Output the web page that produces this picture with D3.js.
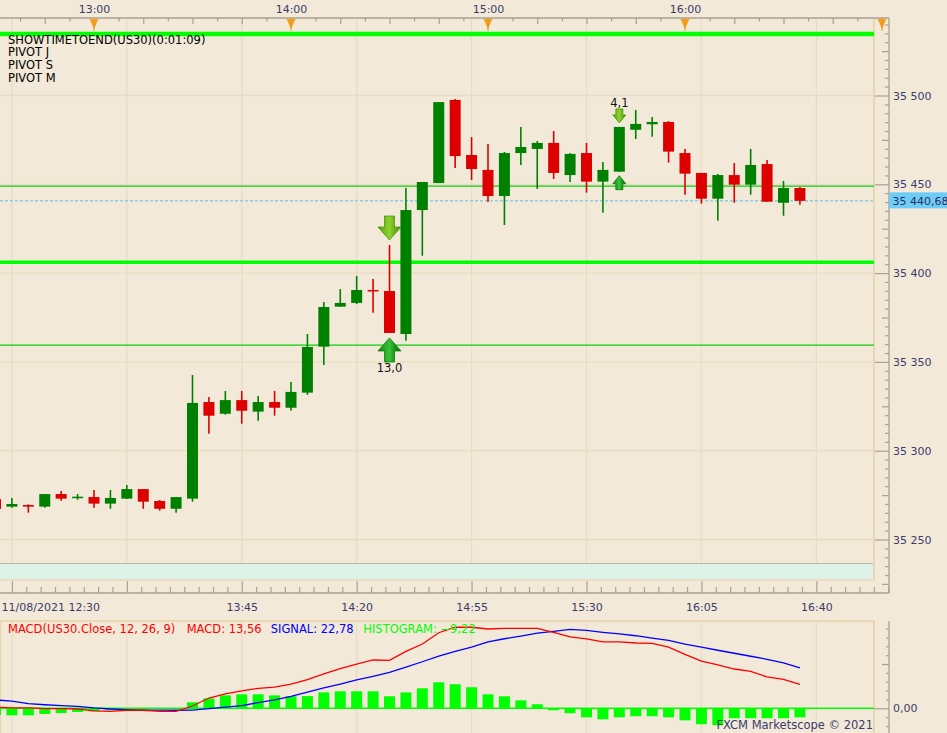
<!DOCTYPE html>
<html>
<head>
<meta charset="utf-8">
<script src="https://cdn.jsdelivr.net/npm/d3@7"></script>
<style>
  body { margin: 0; background: #f2e9d8; overflow: hidden; }
  svg { display: block; }
  text { font-family: "DejaVu Sans", Verdana, sans-serif; }
</style>
</head>
<body>
<script>
// US30, 5 minute bars
const times = ["12:30","12:35","12:40","12:45","12:50","12:55","13:00","13:05","13:10","13:15",
  "13:20","13:25","13:30","13:35","13:40","13:45","13:50","13:55","14:00","14:05",
  "14:10","14:15","14:20","14:25","14:30","14:35","14:40","14:45","14:50","14:55",
  "15:00","15:05","15:10","15:15","15:20","15:25","15:30","15:35","15:40","15:45",
  "15:50","15:55","16:00","16:05","16:10","16:15","16:20","16:25","16:30","16:35"];

const open = [35272.8,35268.5,35269.4,35268.5,35275.6,35273.5,35273.9,35270.2,35273.0,35278.4,
  35271.7,35267.3,35273.0,35327.4,35320.8,35328.5,35322.0,35327.4,35324.2,35332.7,
  35358.6,35381.1,35383.2,35390.5,35389.9,35365.7,35435.5,35450.7,35497.5,35466.5,
  35458.1,35443.4,35467.6,35469.9,35473.3,35455.2,35467.6,35451.5,35457.1,35480.7,
  35483.8,35485.1,35467.6,35456.4,35441.9,35455.2,35449.8,35461.4,35439.6,35447.9];

const high = [35274.5,35273.4,35269.8,35275.6,35277.3,35275.6,35277.9,35277.9,35280.7,35278.4,
  35272.2,35273.9,35342.6,35330.2,35333.6,35333.6,35330.8,35333.6,35338.7,35365.7,
  35383.7,35391.0,35398.4,35396.7,35415.8,35447.9,35451.3,35496.3,35498.0,35476.6,
  35472.7,35468.2,35482.3,35474.4,35480.0,35467.6,35473.3,35462.6,35482.3,35491.8,
  35487.9,35485.6,35469.9,35456.4,35455.8,35462.0,35469.9,35463.7,35451.9,35448.5];

const low = [35265.5,35267.9,35265.1,35267.9,35271.8,35272.4,35267.9,35267.3,35272.8,35267.3,
  35266.2,35265.1,35271.3,35309.6,35320.3,35315.2,35316.9,35319.7,35322.5,35331.5,
  35348.3,35381.1,35382.6,35377.7,35366.3,35361.9,35409.8,35450.7,35459.2,35452.4,
  35440.0,35427.1,35460.9,35447.4,35453.0,35451.3,35445.3,35434.0,35457.1,35475.5,
  35476.8,35462.2,35444.1,35439.1,35429.5,35439.6,35444.1,35440.2,35432.3,35438.5];

const close = [35267.2,35270.0,35268.5,35275.6,35273.0,35274.1,35270.2,35273.4,35278.4,35271.3,
  35267.3,35273.9,35326.9,35319.7,35328.5,35322.5,35327.4,35324.2,35333.1,35358.4,
  35380.9,35383.2,35390.5,35389.9,35366.3,35435.5,35451.3,35496.3,35465.9,35458.6,
  35443.4,35467.6,35471.0,35473.3,35456.4,35467.1,35451.5,35458.1,35482.3,35484.0,
  35485.1,35468.4,35456.0,35441.9,35455.2,35449.8,35460.9,35440.2,35447.9,35440.68];

// MACD(12, 26, 9)
const macdLine = [0.6,0.2,0.2,-0.2,-0.2,-0.4,-1.5,-1.7,-1.1,-1.1,
  -1.7,-1.7,1.3,5.8,8.1,9.9,11.3,12.0,13.7,16.2,
  19.4,22.4,25.0,27.3,27.1,32.2,36.3,42.7,45.8,45.8,
  44.8,45.2,45.2,45.2,42.9,40.3,39.2,37.5,37.5,36.9,
  36.7,34.6,30.5,26.6,24.6,22.2,20.9,17.7,16.4,13.56];

const signalLine = [4.7,4.1,2.6,2.0,1.5,1.1,0.2,-0.4,-0.8,-1.0,
  -1.0,-1.1,-1.0,-0.2,0.7,1.5,3.2,4.7,6.7,9.2,
  11.5,13.7,16.0,18.1,20.3,23.2,26.3,29.5,32.2,34.6,
  37.5,39.3,40.8,42.5,43.5,44.6,44.0,42.9,42.0,41.0,
  39.7,38.4,36.2,34.5,32.8,31.1,29.4,27.7,25.6,22.78];

const histogram = [-3.8,-4.0,-4.0,-3.2,-2.7,-2.1,-1.7,-1.1,-0.8,-0.6,
  -0.3,-0.2,3.4,5.6,7.3,7.9,7.9,7.3,6.8,6.9,
  9.0,9.6,9.6,9.6,6.8,9.0,11.3,14.7,13.6,11.9,
  7.9,6.8,4.5,2.3,-1.1,-2.8,-5.1,-6.2,-5.1,-4.5,
  -4.5,-5.1,-6.8,-9.0,-9.6,-5.6,-5.6,-5.6,-5.6,-5.1];

// pivot levels drawn as horizontal lines
const pivotLevels = [35534.6, 35449.0, 35406.1, 35359.4];
const pivotWeights = [4.5, 1.2, 3.5, 1.2];
const lastPrice = 35440.68;

// signal arrows (time, label)
const signalTimes = ["14:30", "15:40"];
const signalLabels = ["13,0", "4,1"];

const hourLabels = ["13:00", "14:00", "15:00", "16:00"];
const hourMarks = ["13:00", "14:00", "15:00", "16:00", "17:00"];
const priceTicks = [35250, 35300, 35350, 35400, 35450, 35500];
const overlayNames = ["SHOWTIMETOEND(US30)(0:01:09)", "PIVOT J", "PIVOT S", "PIVOT M"];

const width = 947, height = 733;
const plotRight = 874, axisX = 889, topY = 18, bandTop = 563, bandBottom = 580,
      bottomAxisY = 593, macdTop = 621;

const parse = d3.timeParse("%H:%M");
const bars = times.map((t, i) => ({
  t: parse(t), o: open[i], h: high[i], l: low[i], c: close[i],
  macd: macdLine[i], sig: signalLine[i], hist: histogram[i]
}));

const x = d3.scaleTime().domain([parse("13:00"), parse("17:00")]).range([94, 882]);
const y = d3.scaleLinear().domain([35250, 35500]).range([539.5, 95.5]);
const yM = d3.scaleLinear().domain([0, 25]).range([708.3, 664.05]);

const loc = d3.formatLocale({decimal: ",", thousands: " ", grouping: [3], currency: ["", ""]});
const fmtPrice = loc.format(",.0f");
const fmtLast = loc.format(",.2f");
const fmtMacd = loc.format(".2f");

const axisText = "#3b3b6e";
const gridColor = "#eadcc2";
const axisLine = "#a8a194";
const upColor = "#008000", downColor = "#dc0000";

const svg = d3.select("body").append("svg")
    .attr("width", width)
    .attr("height", height);

svg.append("rect").attr("width", width).attr("height", height).attr("fill", "#f2e9d8");

const defs = svg.append("defs");
function grad(id, stops) {
  const g = defs.append("linearGradient").attr("id", id).attr("x1", 0).attr("x2", 1).attr("y1", 0).attr("y2", 0);
  stops.forEach((c, i) => g.append("stop").attr("offset", i / (stops.length - 1)).attr("stop-color", c));
}
grad("gUp", ["#0b7a0b", "#23a823", "#3cbf3c", "#159015", "#0b7a0b"]);
grad("gDown", ["#4a940a", "#6fbd18", "#8fd030", "#64b014", "#4a940a"]);

// vertical grid = bottom axis major ticks (every 35 min from 12:35)
const majorTimes = d3.range(0, 9).map(k => d3.timeMinute.offset(parse("12:35"), 35 * k));
const gridX = majorTimes.filter(t => x(t) < plotRight);

const grid = svg.append("g").attr("stroke", gridColor).attr("stroke-width", 1.3);
grid.selectAll("line.v").data(gridX).join("line")
    .attr("x1", d => x(d)).attr("x2", d => x(d))
    .attr("y1", topY).attr("y2", bandTop);
grid.selectAll("line.vm").data(gridX).join("line")
    .attr("x1", d => x(d)).attr("x2", d => x(d))
    .attr("y1", macdTop).attr("y2", height);
grid.selectAll("line.h").data(priceTicks).join("line")
    .attr("x1", 0).attr("x2", plotRight)
    .attr("y1", d => y(d)).attr("y2", d => y(d));

// band under the price panel
svg.append("rect").attr("x", 0).attr("y", bandTop).attr("width", plotRight).attr("height", bandBottom - bandTop)
    .attr("fill", "#dff2e8");
svg.append("line").attr("x1", 0).attr("x2", plotRight).attr("y1", bandTop + 0.5).attr("y2", bandTop + 0.5)
    .attr("stroke", "#bdb6a6");
svg.append("line").attr("x1", 0).attr("x2", plotRight).attr("y1", bandBottom).attr("y2", bandBottom)
    .attr("stroke", "#ead9b8").attr("stroke-width", 1.5);

// panel borders
svg.append("line").attr("x1", plotRight).attr("x2", plotRight).attr("y1", topY).attr("y2", bandBottom)
    .attr("stroke", "#ead6b0").attr("stroke-width", 2);
svg.append("line").attr("x1", plotRight).attr("x2", plotRight).attr("y1", macdTop).attr("y2", height)
    .attr("stroke", "#ead6b0").attr("stroke-width", 2);
svg.append("line").attr("x1", 0).attr("x2", plotRight).attr("y1", macdTop).attr("y2", macdTop)
    .attr("stroke", "#ead6b0").attr("stroke-width", 2);
svg.append("line").attr("x1", 0.5).attr("x2", 0.5).attr("y1", macdTop).attr("y2", height)
    .attr("stroke", "#ead6b0").attr("stroke-width", 1.5);

// pivot lines
svg.append("g").selectAll("line").data(pivotLevels).join("line")
    .attr("x1", 0).attr("x2", plotRight)
    .attr("y1", d => y(d)).attr("y2", d => y(d))
    .attr("stroke", (d, i) => pivotWeights[i] > 2 ? "#00ff00" : "#0ccc0c")
    .attr("stroke-width", (d, i) => pivotWeights[i]);

// last price line
svg.append("line").attr("x1", 0).attr("x2", plotRight)
    .attr("y1", y(lastPrice)).attr("y2", y(lastPrice))
    .attr("stroke", "#5bc3ee").attr("stroke-width", 1).attr("stroke-dasharray", "3,2");

// candles
const bw = 11;
const candle = svg.append("g").selectAll("g").data(bars).join("g")
    .attr("fill", d => d.c >= d.o ? upColor : downColor)
    .attr("stroke", d => d.c >= d.o ? upColor : downColor);
candle.append("line")
    .attr("x1", d => x(d.t)).attr("x2", d => x(d.t))
    .attr("y1", d => y(d.h)).attr("y2", d => y(d.l))
    .attr("stroke-width", 1.6);
candle.append("rect")
    .attr("x", d => x(d.t) - bw / 2)
    .attr("width", bw)
    .attr("y", d => y(Math.max(d.o, d.c)))
    .attr("height", d => Math.max(1.5, Math.abs(y(d.o) - y(d.c))))
    .attr("stroke", "none");

// signal arrows
function arrowPath(cx, tip, dir, hw, hh, sw, sh) {
  const p = d3.path();
  p.moveTo(cx, tip);
  p.lineTo(cx + hw / 2, tip + dir * hh);
  p.lineTo(cx + sw / 2, tip + dir * hh);
  p.lineTo(cx + sw / 2, tip + dir * (hh + sh));
  p.lineTo(cx - sw / 2, tip + dir * (hh + sh));
  p.lineTo(cx - sw / 2, tip + dir * hh);
  p.lineTo(cx - hw / 2, tip + dir * hh);
  p.closePath();
  return p.toString();
}
const sigG = svg.append("g");
signalTimes.forEach((t, i) => {
  const b = bars[times.indexOf(t)];
  const cx = x(b.t);
  const big = i === 0;
  const [hw, hh, sw, sh, gap] = big ? [23, 13, 10, 11, 5] : [13, 8, 7, 6, 4];
  const downTip = y(b.h) - gap;
  const upTip = y(b.l) + gap;
  sigG.append("path").attr("d", arrowPath(cx, downTip, -1, hw, hh, sw, sh))
      .attr("fill", "url(#gDown)").attr("stroke", "#4a940c").attr("stroke-width", 0.8);
  sigG.append("path").attr("d", arrowPath(cx, upTip, 1, hw, hh, sw, sh))
      .attr("fill", "url(#gUp)").attr("stroke", "#0c7a0c").attr("stroke-width", 0.8);
  sigG.append("text")
      .attr("x", cx)
      .attr("y", big ? upTip + hh + sh + 10.5 : downTip - hh - sh - 2)
      .attr("text-anchor", "middle")
      .attr("font-size", "11.5px")
      .attr("fill", "#111")
      .text(signalLabels[i]);
});

// overlay names
svg.append("g").selectAll("text").data(overlayNames).join("text")
    .attr("x", 8)
    .attr("y", (d, i) => 43.7 + i * 12.7)
    .attr("font-size", "11.5px")
    .attr("fill", "#000")
    .text(d => d);

// top time axis
svg.append("line").attr("x1", 0).attr("x2", axisX).attr("y1", topY).attr("y2", topY)
    .attr("stroke", axisLine).attr("stroke-width", 1.3);
const quarterTicks = d3.range(-30, 241, 15).filter(m => m % 60 !== 0)
    .map(m => d3.timeMinute.offset(parse("13:00"), m));
const eighthTicks = d3.range(-22.5, 241, 15)
    .map(m => d3.timeSecond.offset(parse("13:00"), m * 60));
const topG = svg.append("g").attr("transform", `translate(0,${topY})`);
topG.append("g").call(d3.axisTop(x).tickValues(quarterTicks.filter(t => x(t) > 0 && x(t) < axisX)).tickSize(-6).tickFormat(""));
topG.append("g").call(d3.axisTop(x).tickValues(eighthTicks.filter(t => x(t) > 0 && x(t) < axisX)).tickSize(-3.5).tickFormat(""));
topG.append("g").call(d3.axisTop(x).tickValues(hourLabels.map(parse)).tickSize(0).tickPadding(5.3)
    .tickFormat(d3.timeFormat("%H:%M")));
topG.selectAll(".domain").remove();
topG.selectAll(".tick line").attr("stroke", axisLine).attr("stroke-width", 1.2);
topG.selectAll(".tick text").attr("fill", axisText).attr("font-size", "11px")
    .attr("font-family", "DejaVu Sans, Verdana, sans-serif");

// orange hour markers
svg.append("g").selectAll("path").data(hourMarks.map(parse)).join("path")
    .attr("d", d => `M${x(d) - 4.5},${topY + 1}L${x(d) + 4.5},${topY + 1}L${x(d)},${topY + 11}Z`)
    .attr("fill", "#f7a21c");
svg.append("g").selectAll("line").data(hourMarks.map(parse)).join("line")
    .attr("x1", d => x(d)).attr("x2", d => x(d))
    .attr("y1", topY).attr("y2", topY + 13)
    .attr("stroke", "#e8901a").attr("stroke-width", 1);

// right price axis
svg.append("line").attr("x1", axisX).attr("x2", axisX).attr("y1", topY).attr("y2", bottomAxisY)
    .attr("stroke", axisLine).attr("stroke-width", 1.3);
const rightG = svg.append("g").attr("transform", `translate(${axisX},0)`);
const minorPrices = d3.range(35225, 35545, 5).filter(p => p % 25 !== 0 && y(p) > topY && y(p) < bottomAxisY);
const midPrices = d3.range(35225, 35545, 25).filter(p => p % 50 !== 0 && y(p) > topY && y(p) < bottomAxisY);
rightG.append("g").call(d3.axisRight(y).tickValues(minorPrices).tickSize(-4).tickFormat(""));
rightG.append("g").call(d3.axisRight(y).tickValues(midPrices).tickSize(-7).tickFormat(""));
rightG.append("g").call(d3.axisRight(y).tickValues(priceTicks).tickSize(-14).tickPadding(4).tickFormat(fmtPrice));
rightG.selectAll(".domain").remove();
rightG.selectAll(".tick line").attr("stroke", axisLine).attr("stroke-width", 1.2);
rightG.selectAll(".tick text").attr("fill", axisText).attr("font-size", "11px")
    .attr("font-family", "DejaVu Sans, Verdana, sans-serif");

// last price tag
svg.append("rect").attr("x", axisX).attr("y", y(lastPrice) - 8.5).attr("width", width - axisX).attr("height", 16)
    .attr("fill", "#6ccdf8");
svg.append("text").attr("x", axisX + 3.5).attr("y", y(lastPrice)).attr("dy", "0.35em")
    .attr("font-size", "11px").attr("fill", "#2e2e60").text(fmtLast(lastPrice));

// bottom time axis
svg.append("line").attr("x1", 0).attr("x2", axisX).attr("y1", bottomAxisY).attr("y2", bottomAxisY)
    .attr("stroke", axisLine).attr("stroke-width", 1.3);
const minorTimes = d3.range(-8, 72).filter(k => k % 8 !== 0)
    .map(k => d3.timeMillisecond.offset(parse("12:35"), k * 262500))
    .filter(t => x(t) > 0 && x(t) < axisX);
const botG = svg.append("g").attr("transform", `translate(0,${bottomAxisY})`);
botG.append("g").call(d3.axisBottom(x).tickValues(minorTimes).tickSize(-6).tickFormat(""));
botG.append("g").call(d3.axisBottom(x).tickValues(majorTimes.filter(t => x(t) < axisX)).tickSize(-12).tickPadding(10)
    .tickFormat((d, i) => i === 0 ? "11/08/2021 12:30" : i === 1 ? "" : d3.timeFormat("%H:%M")(d)));
botG.selectAll(".domain").remove();
botG.selectAll(".tick line").attr("stroke", axisLine).attr("stroke-width", 1.2);
botG.selectAll(".tick text").attr("fill", axisText).attr("font-size", "11px")
    .attr("font-family", "DejaVu Sans, Verdana, sans-serif");
botG.selectAll(".tick text").filter(d => +d === +majorTimes[0])
    .attr("text-anchor", "start").attr("x", 1 - x(majorTimes[0]));

// MACD panel
const mg = svg.append("g");
mg.selectAll("rect").data(bars).join("rect")
    .attr("x", d => x(d.t) - bw / 2)
    .attr("width", bw)
    .attr("y", d => Math.min(yM(0), yM(d.hist)))
    .attr("height", d => Math.abs(yM(d.hist) - yM(0)))
    .attr("fill", "#00ff00");
mg.append("line").attr("x1", 0).attr("x2", plotRight).attr("y1", yM(0)).attr("y2", yM(0))
    .attr("stroke", "#00ff00").attr("stroke-width", 1.6);
mg.append("path").datum(bars)
    .attr("fill", "none").attr("stroke", "#0000ff").attr("stroke-width", 1.3)
    .attr("d", d3.line().x(d => x(d.t)).y(d => yM(d.sig)));
mg.append("path").datum(bars)
    .attr("fill", "none").attr("stroke", "#ff0000").attr("stroke-width", 1.3)
    .attr("d", d3.line().x(d => x(d.t)).y(d => yM(d.macd)));

const last = bars[bars.length - 1];
const macdTitle = [
  {x: 8, text: "MACD(US30.Close, 12, 26, 9)", color: "#ff0000"},
  {x: 186.7, text: "MACD: " + fmtMacd(last.macd), color: "#ff0000"},
  {x: 270.7, text: "SIGNAL: " + fmtMacd(last.sig), color: "#0000ff"},
  {x: 363.3, text: "HISTOGRAM: " + fmtMacd(last.macd - last.sig), color: "#00ff00"}
];
mg.selectAll("text.t").data(macdTitle).join("text")
    .attr("x", d => d.x).attr("y", 633)
    .attr("font-size", "11.5px")
    .attr("fill", d => d.color)
    .text(d => d.text);

mg.append("text").attr("x", 873).attr("y", 729).attr("text-anchor", "end")
    .attr("font-size", "11.5px").attr("fill", "#3b3b6e")
    .text("FXCM Marketscope \u00a9 2021");

// MACD axis
svg.append("line").attr("x1", axisX).attr("x2", axisX).attr("y1", macdTop).attr("y2", height)
    .attr("stroke", axisLine).attr("stroke-width", 1.3);
const mAxis = svg.append("g").attr("transform", `translate(${axisX},0)`);
const mMinor = d3.range(-20, 50, 5).filter(v => v !== 0 && v !== 25 && yM(v) > macdTop && yM(v) < height);
mAxis.append("g").call(d3.axisRight(yM).tickValues(mMinor).tickSize(-3).tickFormat(""));
mAxis.append("g").call(d3.axisRight(yM).tickValues([25]).tickSize(-7).tickFormat(""));
mAxis.append("g").call(d3.axisRight(yM).tickValues([0]).tickSize(-15).tickPadding(4).tickFormat(fmtMacd));
mAxis.selectAll(".domain").remove();
mAxis.selectAll(".tick line").attr("stroke", axisLine).attr("stroke-width", 1.2);
mAxis.selectAll(".tick text").attr("fill", axisText).attr("font-size", "11px")
    .attr("font-family", "DejaVu Sans, Verdana, sans-serif");
</script>
</body>
</html>
